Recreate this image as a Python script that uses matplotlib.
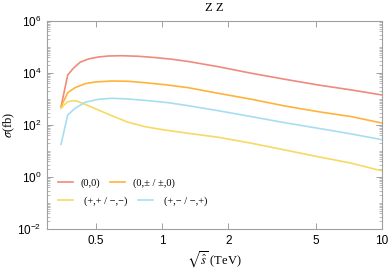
import matplotlib
matplotlib.use("Agg")
import matplotlib.pyplot as plt
import matplotlib.ticker as mticker
import numpy as np

# values: sqrt(s) in TeV, sigma in fb
x_00 = [0.3475, 0.3727, 0.3953, 0.4238, 0.4624, 0.5134, 0.570, 0.6559, 0.7805,
        0.9294, 1.107, 1.317, 1.803, 2.557, 3.623, 5.134, 7.283, 10.0]
sig_00 = [506, 8380, 15170, 25800, 34550, 41250, 45050, 46280, 44000,
          39300, 33900, 27700, 17460, 9730, 5720, 3455, 2220, 1426]

x_0pm = [0.3475, 0.3727, 0.4023, 0.4467, 0.4960, 0.5906, 0.7029, 0.8369, 1.032,
         1.317, 1.803, 2.557, 3.623, 5.134, 7.283, 9.62, 10.0]
sig_0pm = [506, 1746, 2720, 3875, 4510, 4920, 4795, 4235, 3550,
           2720, 1655, 973, 538, 325, 209, 127, 119]

x_pp = [0.3475, 0.369, 0.3886, 0.4095, 0.4467, 0.5134, 0.5906, 0.7029, 0.8369,
        1.032, 1.317, 1.803, 2.557, 3.623, 5.134, 7.283, 9.62, 10.0]
sig_pp = [438, 746, 861, 838, 625, 378, 228, 127, 86,
          64, 48, 33.7, 19.8, 10.9, 6.0, 3.37, 1.86, 1.75]

x_pm = [0.3475, 0.3727, 0.4023, 0.4467, 0.5134, 0.5906, 0.7029, 0.8664, 1.068,
        1.317, 1.803, 2.557, 3.623, 5.134, 7.283, 9.62, 10.0]
sig_pm = [18.1, 243, 438, 746, 973, 1064, 1000, 861, 721,
          552, 355, 209, 122, 74.6, 45, 29, 27]

labels = ["(0,0)", "(0,\u00b1 / \u00b1,0)", "(+,+ / \u2212,\u2212)", "(+,\u2212 / \u2212,+)"]
colors = ["#f08a7c", "#ffb33a", "#f7d964", "#a6def0"]

serif = ["Liberation Serif", "DejaVu Serif"]
plt.rcParams['font.family'] = ["Liberation Sans", "DejaVu Sans"]

fig = plt.figure(figsize=(3.89, 2.73), dpi=100)
ax = fig.add_axes([47 / 389, 1 - 229 / 273, 335 / 389, 208 / 273])

lines = []
for xs, ys, c in zip([x_00, x_0pm, x_pp, x_pm], [sig_00, sig_0pm, sig_pp, sig_pm], colors):
    ln, = ax.plot(xs, ys, color=c, linewidth=1.2)
    lines.append(ln)

ax.set_xscale('log')
ax.set_yscale('log')
ax.set_xlim(0.3, 10)
ax.set_ylim(1e-2, 1e6)

ax.xaxis.set_major_locator(mticker.FixedLocator([0.5, 1, 2, 5, 10]))
ax.xaxis.set_major_formatter(mticker.FixedFormatter(["0.5", "1", "2", "5", "10"]))
ax.xaxis.set_minor_locator(mticker.NullLocator())
ax.yaxis.set_major_locator(mticker.FixedLocator([1e-2, 1, 1e2, 1e4, 1e6]))
ax.yaxis.set_major_formatter(mticker.FixedFormatter(
    [r"$\mathregular{10^{-2}}$", r"$\mathregular{10^{0}}$", r"$\mathregular{10^{2}}$",
     r"$\mathregular{10^{4}}$", r"$\mathregular{10^{6}}$"]))
ax.yaxis.set_minor_locator(mticker.LogLocator(base=10, subs=np.arange(1, 10), numticks=20))
ax.yaxis.set_minor_formatter(mticker.NullFormatter())

for sp in ax.spines.values():
    sp.set_color("#a0a0a0")
    sp.set_linewidth(0.8)
ax.tick_params(which='both', direction='in', top=True, right=True, color="#a0a0a0",
               labelsize=8.5)
ax.tick_params(axis='x', pad=4)
ax.tick_params(axis='y', pad=4)
ax.tick_params(which='major', length=4, width=0.7)
ax.tick_params(which='minor', length=2, width=0.5)

ax.set_title("Z Z", family=serif, fontsize=9, pad=7)
ax.set_xlabel(r"$\sqrt{\hat{s}}$ (TeV)", family=serif, fontsize=9, labelpad=2,
              math_fontfamily='stix')
ax.set_ylabel(r"$\sigma$(fb)", family=serif, fontsize=9, labelpad=0,
              math_fontfamily='stix')

leg1 = ax.legend(lines[:2], labels[:2], ncol=2, frameon=False, loc='center left',
                 bbox_to_anchor=(0.033, 0.221), prop={'family': serif, 'size': 7.5},
                 borderpad=0, borderaxespad=0, handlelength=1.45, handletextpad=0.75,
                 columnspacing=0.9)
ax.add_artist(leg1)
ax.legend(lines[2:], labels[2:], ncol=2, frameon=False, loc='center left',
          bbox_to_anchor=(0.033, 0.135), prop={'family': serif, 'size': 7.5},
          borderpad=0, borderaxespad=0, handlelength=1.45, handletextpad=1.05,
          columnspacing=1.0)

fig.savefig("out.png", dpi=100)
